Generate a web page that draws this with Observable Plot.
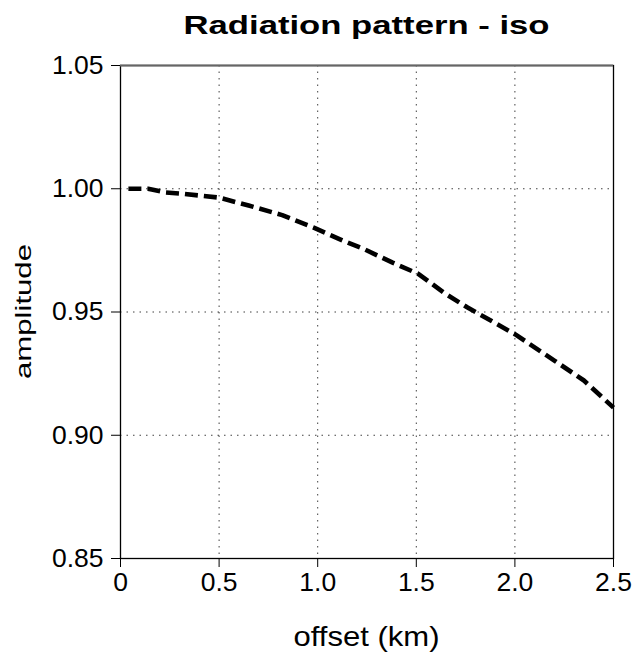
<!DOCTYPE html>
<html>
<head>
<meta charset="utf-8">
<script src="https://cdn.jsdelivr.net/npm/d3@7"></script>
<script src="https://cdn.jsdelivr.net/npm/@observablehq/plot@0.6"></script>
<style>
  html, body { margin: 0; padding: 0; background: #fff; }
  #chart { width: 634px; height: 652px; }
</style>
</head>
<body>
<div id="chart"></div>
<script>
// ---- data ----
const offsetKm = [0.04, 0.14, 0.23, 0.31, 0.50, 0.65, 0.82, 0.98, 1.13, 1.23, 1.38, 1.51, 1.64, 1.76, 2.00, 2.20, 2.35, 2.50];
const amplitude = [1.0, 1.0, 0.9985, 0.998, 0.9964, 0.9932, 0.9893, 0.9842, 0.9789, 0.9757, 0.970, 0.9655, 0.9578, 0.9518, 0.9410, 0.9303, 0.9222, 0.9112];
const xTicks = [0, 0.5, 1.0, 1.5, 2.0, 2.5];
const xTickLabels = ["0", "0.5", "1.0", "1.5", "2.0", "2.5"];
const yTicks = [0.85, 0.90, 0.95, 1.00, 1.05];
const yTickLabels = ["0.85", "0.90", "0.95", "1.00", "1.05"];
const titleText = "Radiation pattern - iso";
const xLabel = "offset (km)";
const yLabel = "amplitude";

const data = offsetKm.map((x, i) => ({x, y: amplitude[i]}));
const font = "'Liberation Sans', Arial, Helvetica, sans-serif";

const plot = Plot.plot({
  width: 634,
  height: 652,
  marginLeft: 120,
  marginRight: 21,
  marginTop: 65,
  marginBottom: 94,
  style: {fontFamily: font, background: "#fff", color: "#000"},
  x: {domain: [0, 2.5]},
  y: {domain: [0.85, 1.05]},
  marks: [
    Plot.gridX(xTicks, {stroke: "#000", strokeOpacity: 0.75, strokeWidth: 1, strokeDasharray: "1.5,5"}),
    Plot.gridY(yTicks, {stroke: "#000", strokeOpacity: 0.75, strokeWidth: 1, strokeDasharray: "1.5,5"}),
    Plot.line(data, {x: "x", y: "y", stroke: "#000", strokeWidth: 4.6, strokeDasharray: "13,6", strokeLinecap: "butt"}),
    Plot.frame({stroke: "#000", strokeWidth: 1.3}),
    Plot.ruleY([1.05], {stroke: "#666", strokeWidth: 2}),
    Plot.axisX({ticks: xTicks, tickFormat: (d, i) => xTickLabels[i], tickSize: 9, tickPadding: 5, fontSize: 26.5, label: null}),
    Plot.axisY({ticks: yTicks, tickFormat: (d, i) => yTickLabels[i], tickSize: 9, tickPadding: 8, fontSize: 26.5, label: null})
  ]
});

document.getElementById("chart").appendChild(plot);

// Title and axis labels placed from the plot's own scales
const svg = d3.select(plot);
const xr = plot.scale("x").range;
const yr = plot.scale("y").range;
const cx = (xr[0] + xr[1]) / 2;
const cy = (yr[0] + yr[1]) / 2;

function stretch(node, target) {
  node.setAttribute("textLength", target);
  node.setAttribute("lengthAdjust", "spacingAndGlyphs");
}

const t = svg.append("text")
  .attr("x", cx).attr("y", 34)
  .attr("text-anchor", "middle")
  .attr("font-family", font)
  .attr("font-weight", "bold")
  .attr("font-size", 26)
  .attr("fill", "#000")
  .text(titleText);
stretch(t.node(), 366);

const xl = svg.append("text")
  .attr("x", cx).attr("y", 646)
  .attr("text-anchor", "middle")
  .attr("font-family", font)
  .attr("font-size", 28)
  .attr("fill", "#000")
  .text(xLabel);
stretch(xl.node(), 146);

const yl = svg.append("text")
  .attr("transform", `translate(31,${cy}) rotate(-90)`)
  .attr("text-anchor", "middle")
  .attr("font-family", font)
  .attr("font-size", 22)
  .attr("fill", "#000")
  .text(yLabel);
stretch(yl.node(), 135);
</script>
</body>
</html>
